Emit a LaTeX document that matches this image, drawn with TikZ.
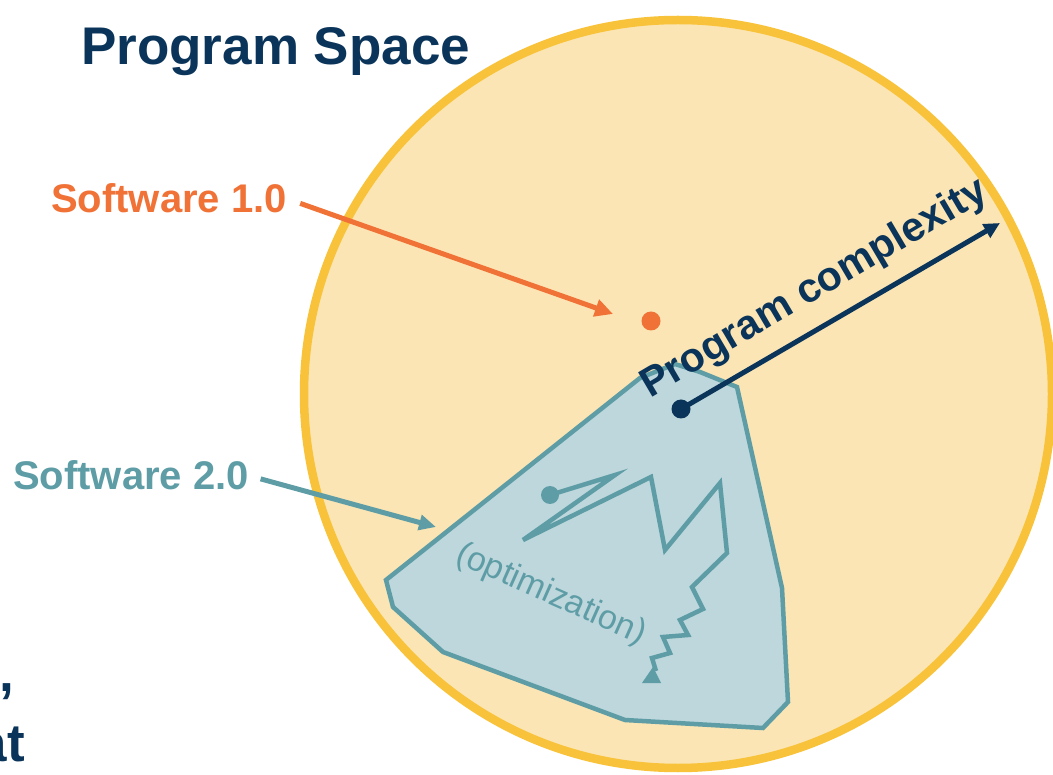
\documentclass[tikz,border=0pt]{standalone}
\usepackage{fontspec}
\setmainfont{Liberation Sans}
\usetikzlibrary{arrows.meta}
\definecolor{cfill}{HTML}{FBE5B4}
\definecolor{cline}{HTML}{F8C33A}
\definecolor{tline}{HTML}{5E9DA6}
\definecolor{tfill}{HTML}{BDD7DC}
\definecolor{corange}{HTML}{F07237}
\definecolor{cnavy}{HTML}{0A3459}
\begin{document}
\begin{tikzpicture}[x=1pt,y=-1pt,
  titletext/.style={inner sep=0pt,text=cnavy,font=\fontsize{53}{60}\selectfont\bfseries},
  lbl/.style={inner sep=0pt,font=\fontsize{40}{48}\selectfont\bfseries},
  dotnode/.style={circle,inner sep=0pt,minimum size=19pt},
  oarrow/.style={draw=corange,line width=5pt,-{Triangle[length=18pt,width=17pt]}},
  tarrow/.style={draw=tline,line width=5pt,-{Triangle[length=17pt,width=15pt]}},
  narrow/.style={draw=cnavy,line width=5pt,-{Triangle[length=16pt,width=15pt]}},
  zz/.style={draw=tline,line width=4.5pt,line join=miter}]
\useasboundingbox (0,0) rectangle (1053,775);
% program space circle
\path[fill=cfill,draw=cline,line width=8.5pt] (678,394) circle [radius=374pt];
% software 2.0 region
\path[fill=tfill,draw=tline,line width=4.5pt,line join=miter]
  (386,580) -- (393,607) -- (443,652) -- (625,720) -- (763,728) -- (788,702)
  -- (782,588) -- (737,387) -- (700,372) -- (675,364) -- (640,378) -- cycle;
% optimization zigzag
\node[dotnode,fill=tline,minimum size=18pt] (zdot) at (550,495) {};
\draw[zz] (zdot.center) -- (615,475) -- (523,540) -- (651,477) -- (665,550)
  -- (720,483) -- (727,553) -- (692,587) -- (703,609) -- (680,620) -- (688,635)
  -- (663,637) -- (670,653) -- (652,658) -- (656,671);
\fill[tline] (642,683) -- (661,683) -- (653,667) -- cycle;
\node[inner sep=0pt,text=tline,rotate=-24,font=\fontsize{34}{40}\selectfont] (opt) at (551,595) {(optimization)};
% title
\node[titletext,anchor=base west] (title) at (81,65) {Program Space};
% software 1.0
\node[lbl,text=corange,anchor=base west] (sw1) at (51,213) {Software 1.0};
\node[dotnode,fill=corange] (odot) at (651,321) {};
\coordinate (o1end) at (613,314);
\draw[oarrow,shorten <=14pt] (sw1.east) -- (o1end);
% software 2.0
\node[lbl,text=tline,anchor=base west] (sw2) at (13,490) {Software 2.0};
\coordinate (t2end) at (436,527);
\draw[tarrow,shorten <=12pt] (sw2.east) -- (t2end);
% program complexity
\node[dotnode,fill=cnavy] (cdot) at (681,409) {};
\coordinate (ctip) at (1000,223);
\draw[narrow] (cdot.center) -- (ctip);
\node[inner sep=0pt,text=cnavy,font=\fontsize{41}{48}\selectfont\bfseries,rotate=30.5,anchor=base] (cplx) at (820,298) {Program complexity};
% fragments of cut-off text
\node[titletext,anchor=base east] (frag1) at (14,691) {,};
\node[titletext,anchor=base east] (frag2) at (25,761) {at};
\end{tikzpicture}
\end{document}
